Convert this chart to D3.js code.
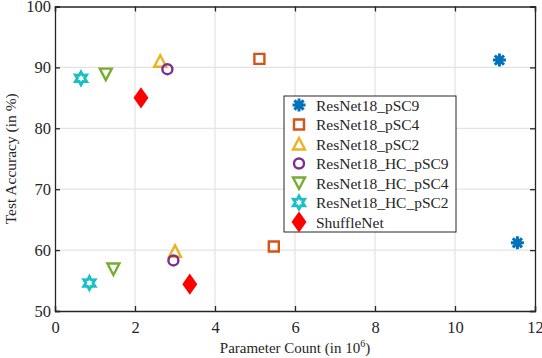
<!doctype html>
<html>
<head>
<meta charset="utf-8">
<script src="https://cdnjs.cloudflare.com/ajax/libs/d3/7.8.5/d3.min.js"></script>
<style>
  body { margin: 0; background: #fff; }
  text { font-family: "Liberation Serif", "DejaVu Serif", serif; fill: #262626; }
</style>
</head>
<body>
<script>
// data
var seriesNames = ["ResNet18_pSC9", "ResNet18_pSC4", "ResNet18_pSC2", "ResNet18_HC_pSC9",
                   "ResNet18_HC_pSC4", "ResNet18_HC_pSC2", "ShuffleNet"];
var paramCounts = [[11.11, 11.56], [5.11, 5.47], [2.63, 3.0], [2.81, 2.96], [1.27, 1.46], [0.65, 0.86], [2.15, 3.37]];
var accuracies  = [[91.2, 61.2], [91.4, 60.6], [91.0, 59.8], [89.7, 58.3], [88.9, 56.9], [88.2, 54.6], [85.0, 54.4]];
var colors = ["#0072BD", "#D95319", "#EDB120", "#7E2F8E", "#77AC30", "#1ABFC6", "#FF0000"];
var markers = ["asterisk", "square", "triUp", "circle", "triDown", "hexagram", "diamond"];
var xTicks = [0, 2, 4, 6, 8, 10, 12];
var yTicks = [50, 60, 70, 80, 90, 100];

var width = 542, height = 358;
var svg = d3.select("body").append("svg").attr("width", width).attr("height", height);

var x = d3.scaleLinear().domain([0, 12]).range([55, 535]);
var y = d3.scaleLinear().domain([50, 100]).range([311, 6.5]);

// grid
svg.append("g").selectAll("line").data(xTicks.slice(1, -1)).enter().append("line")
  .attr("x1", d => x(d)).attr("x2", d => x(d)).attr("y1", y(50)).attr("y2", y(100))
  .attr("stroke", "#e3e3e3").attr("stroke-width", 1.2);
svg.append("g").selectAll("line").data(yTicks.slice(1, -1)).enter().append("line")
  .attr("x1", x(0)).attr("x2", x(12)).attr("y1", d => y(d)).attr("y2", d => y(d))
  .attr("stroke", "#e3e3e3").attr("stroke-width", 1.2);

// axes (box with inward ticks)
var xAxis = svg.append("g").attr("transform", "translate(0," + y(50) + ")")
  .call(d3.axisBottom(x).tickValues(xTicks).tickSize(-5).tickPadding(10));
var xTop = svg.append("g").attr("transform", "translate(0," + y(100) + ")")
  .call(d3.axisTop(x).tickValues(xTicks).tickSize(-5).tickFormat(""));
var yAxis = svg.append("g").attr("transform", "translate(" + x(0) + ",0)")
  .call(d3.axisLeft(y).tickValues(yTicks).tickSize(-5).tickPadding(4));
var yRight = svg.append("g").attr("transform", "translate(" + x(12) + ",0)")
  .call(d3.axisRight(y).tickValues(yTicks).tickSize(-5).tickFormat(""));
[xAxis, xTop, yAxis, yRight].forEach(function(g) {
  g.select(".domain").attr("stroke", "#262626").attr("stroke-width", 1.3);
  g.selectAll(".tick line").attr("stroke", "#262626").attr("stroke-width", 1.3);
  g.selectAll("text").style("font-family", "Liberation Serif, serif").style("font-size", "16.5px").attr("fill", "#262626");
});

// axis titles
var xl = svg.append("text").attr("x", 295).attr("y", 353).attr("text-anchor", "middle")
  .style("font-size", "15px");
xl.append("tspan").text("Parameter Count (in 10");
xl.append("tspan").text("6").attr("dy", -6).style("font-size", "10px");
xl.append("tspan").text(")").attr("dy", 6);
svg.append("text").attr("transform", "translate(16," + y(75) + ") rotate(-90)")
  .attr("text-anchor", "middle").style("font-size", "15.5px").text("Test Accuracy (in %)");

// marker paths
function markerPath(type) {
  var p = d3.path();
  if (type === "asterisk") {
    var r = 6.5;
    for (var i = 0; i < 4; i++) {
      var a = i * Math.PI / 4;
      p.moveTo(-r * Math.cos(a), -r * Math.sin(a)); p.lineTo(r * Math.cos(a), r * Math.sin(a));
    }
  } else if (type === "square") {
    p.rect(-5, -5, 10, 10);
  } else if (type === "circle") {
    p.arc(0, 0, 5, 0, 2 * Math.PI); p.closePath();
  } else if (type === "triUp") {
    p.moveTo(0, -6); p.lineTo(6, 5.5); p.lineTo(-6, 5.5); p.closePath();
  } else if (type === "triDown") {
    p.moveTo(0, 6); p.lineTo(6, -5.5); p.lineTo(-6, -5.5); p.closePath();
  } else if (type === "hexagram") {
    for (var k = 0; k < 12; k++) {
      var ang = -Math.PI / 2 + k * Math.PI / 6, rr = k % 2 ? 3.6 : 6.5;
      if (k === 0) p.moveTo(rr * Math.cos(ang), rr * Math.sin(ang));
      else p.lineTo(rr * Math.cos(ang), rr * Math.sin(ang));
    }
    p.closePath();
  } else if (type === "diamond") {
    p.moveTo(0, -8.5); p.lineTo(6, 0); p.lineTo(0, 8.5); p.lineTo(-6, 0); p.closePath();
  }
  return p.toString();
}
function drawMarker(g, i) {
  var filled = markers[i] === "diamond";
  g.append("path").attr("d", markerPath(markers[i]))
    .attr("fill", filled ? colors[i] : "none")
    .attr("stroke", colors[i])
    .attr("stroke-width", markers[i] === "asterisk" ? 3 : (markers[i] === "hexagram" ? 2.8 : 2.4))
    .attr("stroke-linejoin", "miter");
}

// points
seriesNames.forEach(function(name, i) {
  paramCounts[i].forEach(function(px, j) {
    var g = svg.append("g").attr("transform", "translate(" + x(px) + "," + y(accuracies[i][j]) + ")");
    drawMarker(g, i);
  });
});

// legend
var leg = svg.append("g").attr("transform", "translate(284,96)");
leg.append("rect").attr("width", 172).attr("height", 136).attr("fill", "#fff")
  .attr("stroke", "#262626").attr("stroke-width", 1);
seriesNames.forEach(function(name, i) {
  var row = leg.append("g").attr("transform", "translate(0," + (9 + i * 19.5) + ")");
  drawMarker(row.append("g").attr("transform", "translate(15,0)"), i);
  row.append("text").attr("x", 32).attr("y", 5.5).style("font-size", "15.5px").text(name);
});
</script>
</body>
</html>
